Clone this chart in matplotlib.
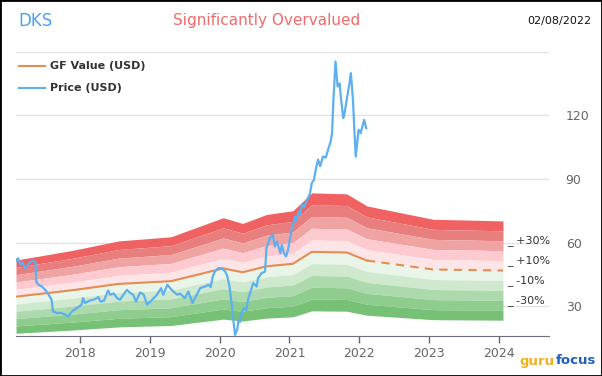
import matplotlib.pyplot as plt
import numpy as np

# GF Value (USD) at kink points, decimal year
gf_years = [2017.08, 2017.88, 2018.55, 2019.30, 2020.05, 2020.33, 2020.67,
            2021.05, 2021.32, 2021.82, 2022.11, 2023.06, 2024.06]
gf_values = [34.5, 37.5, 40.5, 41.8, 47.8, 46.0, 48.8,
             50.0, 55.6, 55.3, 51.5, 47.3, 46.8]
gf_last_actual = 2022.11

# Price (USD)
price_years = [2017.08, 2017.11, 2017.14, 2017.17, 2017.21, 2017.24, 2017.28, 2017.32,
               2017.36, 2017.37, 2017.40, 2017.45, 2017.50, 2017.55, 2017.59, 2017.61,
               2017.64, 2017.67, 2017.72, 2017.79, 2017.83, 2017.88, 2017.95, 2018.02,
               2018.04, 2018.07, 2018.14, 2018.21, 2018.26, 2018.29, 2018.34, 2018.40,
               2018.43, 2018.48, 2018.53, 2018.57, 2018.62, 2018.67, 2018.72, 2018.76,
               2018.80, 2018.86, 2018.91, 2018.96, 2019.03, 2019.10, 2019.16, 2019.19,
               2019.25, 2019.31, 2019.39, 2019.43, 2019.50, 2019.55, 2019.61, 2019.67,
               2019.72, 2019.79, 2019.84, 2019.87, 2019.90, 2019.93, 2019.98, 2020.03,
               2020.08, 2020.11, 2020.14, 2020.17, 2020.20, 2020.22, 2020.25, 2020.27,
               2020.29, 2020.32, 2020.35, 2020.38, 2020.41, 2020.45, 2020.48, 2020.53,
               2020.55, 2020.60, 2020.65, 2020.67, 2020.72, 2020.76, 2020.79, 2020.82,
               2020.87, 2020.89, 2020.92, 2020.95, 2020.98, 2021.03, 2021.08, 2021.10,
               2021.13, 2021.15, 2021.18, 2021.21, 2021.25, 2021.29, 2021.32, 2021.35,
               2021.38, 2021.41, 2021.44, 2021.48, 2021.52, 2021.56, 2021.59, 2021.61,
               2021.63, 2021.66, 2021.69, 2021.72, 2021.73, 2021.77, 2021.79, 2021.82,
               2021.86, 2021.88, 2021.91, 2021.93, 2021.95, 2021.99, 2022.02, 2022.05,
               2022.07, 2022.10]
price_values = [51.5, 52.6, 49.5, 50.8, 47.9, 48.9, 50.8, 51.5,
                50.6, 41.6, 40.2, 39.3, 37.7, 35.4, 33.0, 27.5,
                27.2, 26.7, 26.9, 26.0, 25.2, 27.5, 29.1, 30.7,
                33.8, 31.5, 32.7, 33.3, 34.3, 32.2, 32.5, 37.4,
                35.4, 36.0, 33.8, 33.0, 35.4, 37.7, 36.2, 35.4,
                32.2, 36.5, 35.4, 30.7, 33.0, 35.4, 38.5, 35.4,
                40.1, 37.7, 35.4, 36.0, 33.8, 36.9, 31.5, 35.4,
                38.5, 39.3, 40.1, 39.0, 44.0, 46.3, 47.9, 47.9,
                46.3, 44.0, 39.3, 31.5, 22.0, 16.5, 18.9, 23.6,
                22.5, 27.5, 29.1, 27.8, 33.8, 37.7, 40.9, 39.3,
                43.2, 45.6, 46.3, 57.4, 62.1, 63.6, 58.1, 60.4,
                55.0, 58.9, 55.0, 53.4, 56.6, 66.0, 72.3, 70.5,
                74.6, 73.0, 77.8, 76.5, 80.1, 82.5, 88.0, 89.5,
                95.0, 99.0, 96.0, 100.5, 100.0, 104.5, 107.6, 111.5,
                127.2, 145.3, 133.5, 135.0, 130.4, 118.6, 121.0, 127.2,
                135.1, 139.8, 127.2, 113.1, 100.5, 113.1, 111.5, 115.4,
                117.8, 113.9]

band_steps = [1.5, 1.4, 1.3, 1.2, 1.1, 1.0, 0.9, 0.8, 0.7, 0.6, 0.5]
band_colors = ['#f06262', '#e97e7e', '#f0a3a3', '#fdcacf', '#fde5e7',
               '#e9f5e9', '#cfe9cf', '#acdaac', '#8fcd8f', '#76c176']
band_labels = ['+30%', '+10%', '-10%', '-30%']
band_label_steps = [1.3, 1.1, 0.9, 0.7]

year_ticks = [2018, 2019, 2020, 2021, 2022, 2023, 2024]
y_ticks = [30, 60, 90, 120]

fig = plt.figure(figsize=(6.02, 3.76), dpi=100)
ax = fig.add_axes([16 / 602, 40.5 / 376, 533 / 602, 284 / 376])

gx = np.array(gf_years)
gy = np.array(gf_values)
for i in range(len(band_colors)):
    ax.fill_between(gx, gy * band_steps[i + 1], gy * band_steps[i],
                    color=band_colors[i], lw=0, zorder=1)

# GF value line: solid up to last actual, dashed afterwards
k = gf_years.index(gf_last_actual)
ax.plot(gx[:k + 1], gy[:k + 1], color='#e28e52', lw=1.5, zorder=3)
ax.plot(gx[k:], gy[k:], color='#e28e52', lw=1.5, ls=(0, (4, 3)), zorder=3)

ax.plot(price_years, price_values, color='#5cb0f2', lw=1.6, zorder=4)

for lab, s in zip(band_labels, band_label_steps):
    ax.text(2024.12, gy[-1] * s, '_ ' + lab, fontsize=8, color='#333333',
            va='center', ha='left', zorder=5)

ax.set_xlim(2017.08, 2024.72)
ax.set_ylim(16.2, 150)
ax.set_xticks(year_ticks)
ax.set_xticklabels([str(y) for y in year_ticks])
ax.set_yticks(y_ticks + [150])
ax.yaxis.set_tick_params(length=0)
ax.yaxis.tick_right()
ax.set_yticklabels([str(v) for v in y_ticks] + [''])
ax.tick_params(axis='y', labelsize=9, colors='#666666', pad=12)
ax.tick_params(axis='x', labelsize=9, colors='#666666', length=5, width=1, pad=3)
ax.grid(axis='y', color='#e2e2e2', lw=1, zorder=0)
ax.set_axisbelow(True)
for s in ['top', 'left', 'right']:
    ax.spines[s].set_visible(False)
ax.spines['bottom'].set_color('#6e7079')

# titles
fig.text(18 / 602, 1 - 21 / 376, 'DKS', fontsize=12, color='#4da3f0', va='center')
fig.text(267 / 602, 1 - 21 / 376, 'Significantly Overvalued', fontsize=11,
         color='#f06b6b', va='center', ha='center')
fig.text(591 / 602, 1 - 21 / 376, '02/08/2022', fontsize=8, color='#111111',
         va='center', ha='right')

# legend
fig.add_artist(plt.Line2D([19 / 602, 45 / 602], [1 - 66 / 376] * 2, color='#e28e52', lw=1.5))
fig.text(50 / 602, 1 - 66 / 376, 'GF Value (USD)', fontsize=8, fontweight='bold',
         color='#333333', va='center')
fig.add_artist(plt.Line2D([19 / 602, 45 / 602], [1 - 88 / 376] * 2, color='#5cb0f2', lw=1.5))
fig.text(50 / 602, 1 - 88 / 376, 'Price (USD)', fontsize=8, fontweight='bold',
         color='#333333', va='center')

# gurufocus logo
fig.text(555 / 602, 1 - 361 / 376, 'guru', fontsize=9.5, fontweight='bold',
         color='#f2b01e', va='center', ha='right')
fig.text(556 / 602, 1 - 361 / 376, 'focus', fontsize=9.5, fontweight='bold',
         color='#1f5fbf', va='center', ha='left')

# outer border
fig.add_artist(plt.Rectangle((0, 0), 1, 1, transform=fig.transFigure, fill=False,
                             ec='black', lw=2))

fig.savefig('out.png', dpi=100)
